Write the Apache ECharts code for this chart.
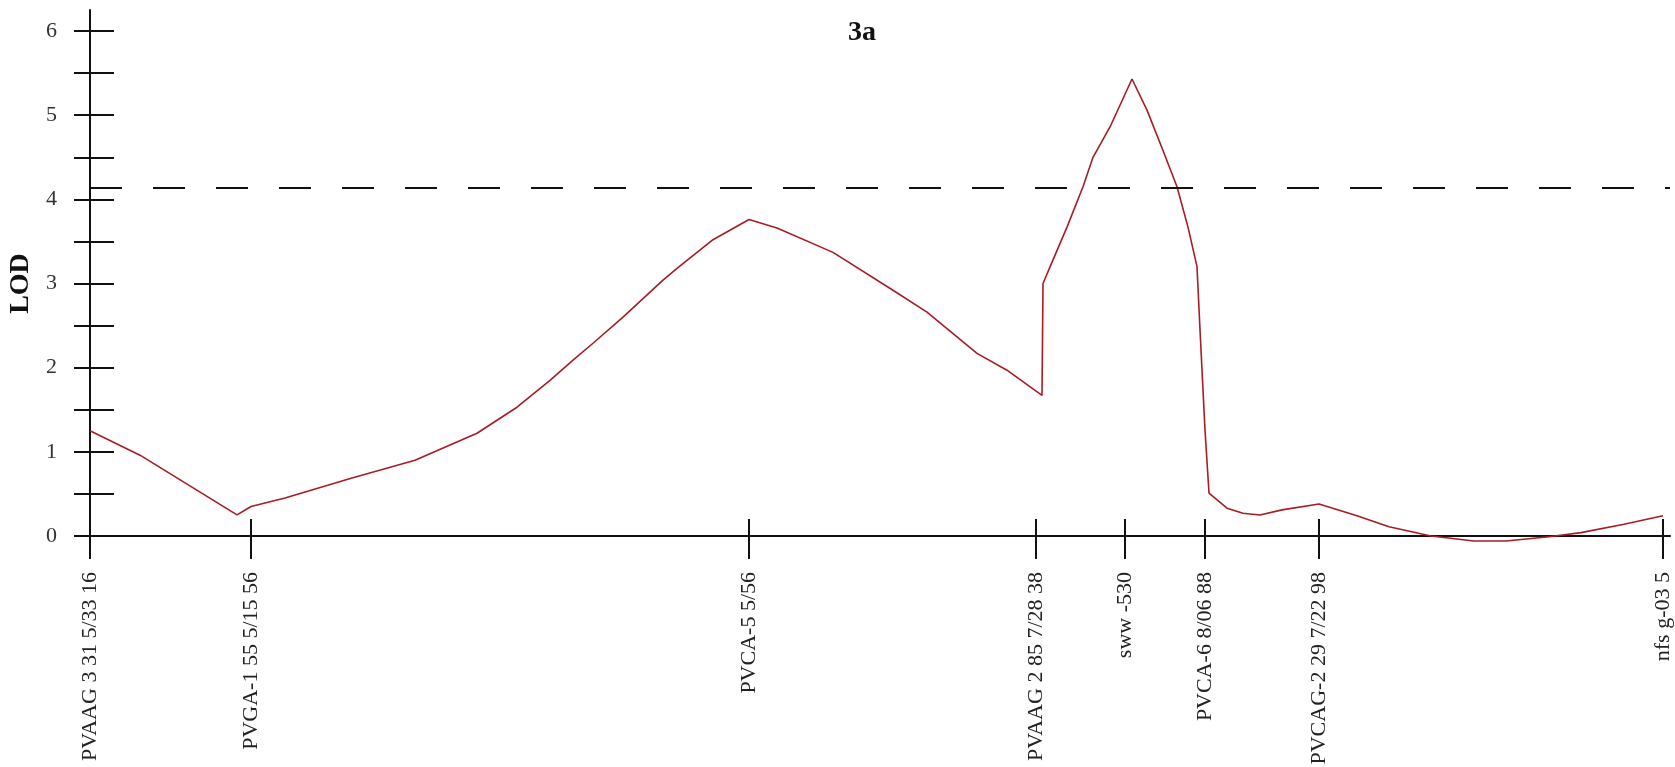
<!DOCTYPE html>
<html>
<head>
<meta charset="utf-8">
<title>3a</title>
<script src="https://cdn.jsdelivr.net/npm/echarts@6/dist/echarts.min.js"></script>
<style>
  html, body { margin: 0; padding: 0; background: #fff; }
  #chart { width: 1675px; height: 767px; }
</style>
</head>
<body>
<div id="chart"></div>
<script>
// Linkage group 3a: LOD profile along the chromosome (positions in cM)
const markerNames = [
  'PVAAG 3 31 5/33 16',
  'PVGA-1 55 5/15 56',
  'PVCA-5 5/56',
  'PVAAG 2 85 7/28 38',
  'sww -530',
  'PVCA-6 8/06 88',
  'PVCAG-2 29 7/22 98',
  'nfs g-03 5'
];
const markerPositions = [0, 16.1, 65.9, 94.6, 103.5, 111.5, 122.9, 157.3];

const scanPositions = [
  0, 5.0, 14.7, 16.1, 19.5, 26.2, 32.5, 38.7, 42.7, 46.0, 48.3, 50.3, 53.3,
  57.3, 58.7, 62.3, 65.9, 68.7, 74.3, 80.3, 83.7, 88.7, 91.7, 95.2, 95.3,
  96.3, 97.7, 99.3, 100.3, 102.0, 104.2, 105.7, 107.3, 108.7, 109.8, 110.7,
  111.0, 111.5, 111.9, 113.7, 115.3, 117.0, 119.2, 122.9, 126.7, 129.9,
  134.1, 138.4, 141.6, 145.9, 149.1, 153.4, 157.3
];
const lodValues = [
  1.25, 0.96, 0.25, 0.35, 0.45, 0.69, 0.90, 1.22, 1.53, 1.85, 2.09, 2.29, 2.60,
  3.04, 3.18, 3.52, 3.76, 3.66, 3.37, 2.92, 2.66, 2.17, 1.97, 1.67, 3.00,
  3.28, 3.67, 4.15, 4.50, 4.86, 5.43, 5.06, 4.58, 4.15, 3.67, 3.20,
  2.45, 1.26, 0.51, 0.33, 0.27, 0.25, 0.31, 0.38, 0.24, 0.11,
  0.00, -0.06, -0.06, -0.01, 0.04, 0.14, 0.24
];

const lodThreshold = 4.14;
const yTickValues = [0, 0.5, 1, 1.5, 2, 2.5, 3, 3.5, 4, 4.5, 5, 5.5, 6];
const yLabelValues = [0, 1, 2, 3, 4, 5, 6];

const serif = "'Liberation Serif', 'DejaVu Serif', serif";
const ink = '#111';

const chart = echarts.init(document.getElementById('chart'), null, { renderer: 'canvas' });

const curve = scanPositions.map((x, i) => [x, lodValues[i]]);

chart.setOption({
  animation: false,
  backgroundColor: '#fff',
  title: {
    text: '3a',
    left: 843,
    top: 14,
    textStyle: { fontFamily: serif, fontSize: 28, fontWeight: 'bold', color: '#111' }
  },
  grid: { left: 90, right: 5, top: 10, bottom: 210, containLabel: false, outerBoundsMode: 'none' },
  xAxis: [
    {
      type: 'value',
      min: 0,
      max: 158,
      position: 'bottom',
      axisLine: { show: true, onZero: true, onZeroAxisIndex: 0, lineStyle: { color: ink, width: 2 } },
      axisTick: { show: true, inside: false, length: 23, customValues: markerPositions, lineStyle: { color: ink, width: 2 } },
      axisLabel: {
        show: true,
        customValues: markerPositions,
        rotate: 90,
        margin: 15,
        fontFamily: serif,
        fontSize: 22,
        color: '#222',
        formatter: function (v) {
          const i = markerPositions.indexOf(v);
          return i >= 0 ? markerNames[i] : '';
        }
      },
      splitLine: { show: false }
    },
    {
      type: 'value',
      min: 0,
      max: 158,
      position: 'bottom',
      axisLine: { show: false, onZero: true, onZeroAxisIndex: 0 },
      axisTick: { show: true, inside: true, length: 17, customValues: markerPositions, lineStyle: { color: ink, width: 2 } },
      axisLabel: { show: false },
      splitLine: { show: false }
    }
  ],
  yAxis: [
    {
      type: 'value',
      min: -0.25,
      max: 6.25,
      position: 'left',
      name: 'LOD',
      nameLocation: 'middle',
      nameRotate: 90,
      nameGap: 52,
      nameTextStyle: { fontFamily: serif, fontSize: 28, fontWeight: 'bold', color: '#111' },
      axisLine: { show: true, onZero: true, onZeroAxisIndex: 0, lineStyle: { color: ink, width: 2 } },
      axisTick: { show: true, inside: false, length: 16, customValues: yTickValues, lineStyle: { color: ink, width: 2 } },
      axisLabel: {
        show: true,
        customValues: yLabelValues,
        margin: 33,
        fontFamily: serif,
        fontSize: 22,
        color: '#333'
      },
      splitLine: { show: false }
    },
    {
      type: 'value',
      min: -0.25,
      max: 6.25,
      position: 'left',
      axisLine: { show: false, onZero: true, onZeroAxisIndex: 0 },
      axisTick: { show: true, inside: true, length: 24, customValues: yTickValues, lineStyle: { color: ink, width: 2 } },
      axisLabel: { show: false },
      splitLine: { show: false }
    }
  ],
  series: [
    {
      type: 'line',
      xAxisIndex: 0,
      yAxisIndex: 0,
      data: curve,
      symbol: 'none',
      smooth: false,
      lineStyle: { color: '#a81c22', width: 1.6 },
      markLine: {
        silent: true,
        symbol: 'none',
        label: { show: false },
        lineStyle: { color: '#111', width: 2, type: [32, 31] },
        data: [{ yAxis: lodThreshold }]
      }
    }
  ]
});
</script>
</body>
</html>
